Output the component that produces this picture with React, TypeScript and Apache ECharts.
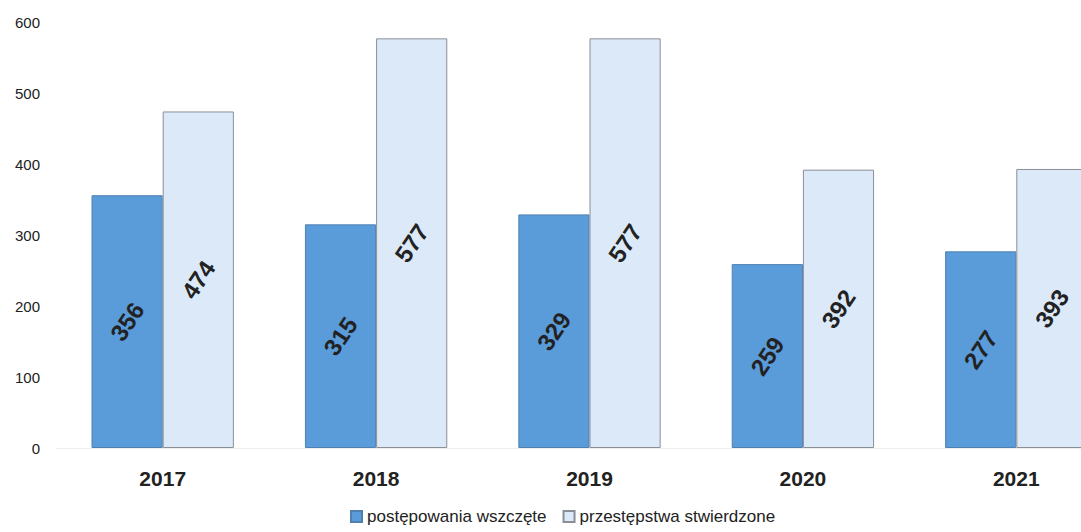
import React, { useEffect, useRef } from "react";
import * as echarts from "echarts";

const years = ["2017", "2018", "2019", "2020", "2021"];
const initiated = [356, 315, 329, 259, 277];
const confirmed = [474, 577, 577, 392, 393];
const seriesNames = ["postępowania wszczęte", "przestępstwa stwierdzone"];

export default function App() {
  const ref = useRef<HTMLDivElement>(null);
  useEffect(() => {
    const chart = echarts.init(ref.current!, null, { renderer: "svg" });
    const label = {
      show: true,
      position: "inside",
      rotate: 56,
      color: "#222",
      fontWeight: "bold",
      fontSize: 24,
      fontFamily: "Liberation Sans, Arial, sans-serif",
    };
    chart.setOption({
      animation: false,
      backgroundColor: "#ffffff",
      grid: { left: 56, right: 0, top: 22, bottom: 84, containLabel: false },
      xAxis: {
        type: "category",
        data: years,
        axisLine: { show: true, lineStyle: { color: "#efefef" } },
        axisTick: { show: false },
        axisLabel: {
          color: "#222",
          fontWeight: "bold",
          fontSize: 21,
          margin: 20,
          fontFamily: "Liberation Sans, Arial, sans-serif",
        },
      },
      yAxis: {
        type: "value",
        min: 0,
        max: 600,
        interval: 100,
        axisLine: { show: false },
        axisTick: { show: false },
        splitLine: { show: false },
        axisLabel: {
          color: "#222",
          fontSize: 15,
          margin: 16,
          fontFamily: "Liberation Sans, Arial, sans-serif",
        },
      },
      legend: {
        left: 345,
        bottom: 2,
        icon: "rect",
        itemWidth: 11,
        itemHeight: 11,
        itemGap: 16,
        textStyle: {
          color: "#222",
          fontSize: 17,
          fontFamily: "Liberation Sans, Arial, sans-serif",
        },
        data: seriesNames,
      },
      series: [
        {
          name: seriesNames[0],
          type: "bar",
          data: initiated,
          barGap: "0%",
          barCategoryGap: "33.3%",
          itemStyle: { color: "#5a9bd9", borderColor: "#4f80b0", borderWidth: 1 },
          label,
        },
        {
          name: seriesNames[1],
          type: "bar",
          data: confirmed,
          itemStyle: { color: "#dbe9f8", borderColor: "#8a8f96", borderWidth: 1 },
          label,
        },
      ],
    });
    return () => chart.dispose();
  }, []);
  return (
    <div
      style={{
        position: "absolute",
        left: 0,
        top: 0,
        width: 1081,
        height: 532,
        overflow: "hidden",
      }}
    >
      <div ref={ref} style={{ width: 1123, height: 532 }} />
    </div>
  );
}
